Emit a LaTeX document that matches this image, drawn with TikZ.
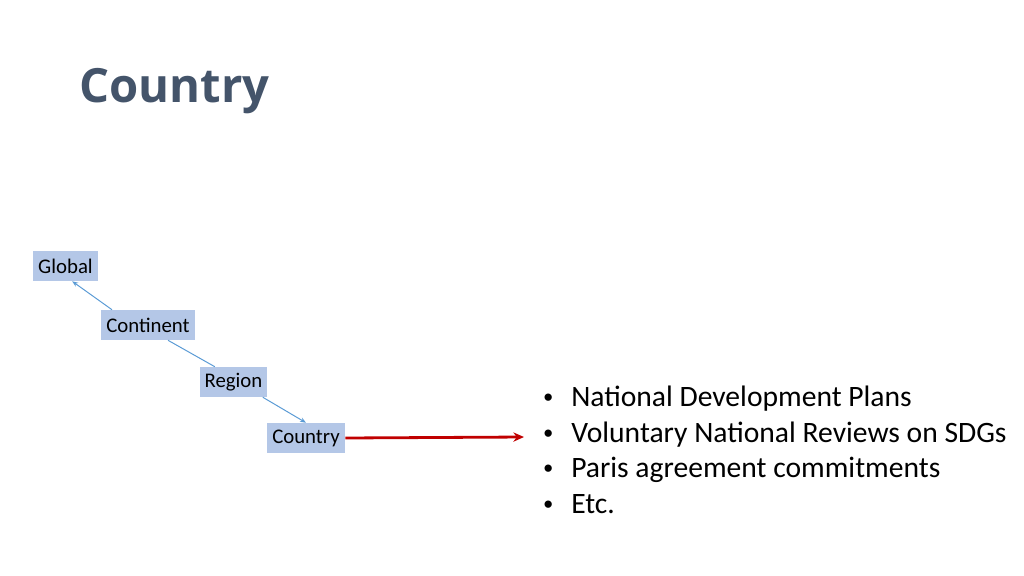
\documentclass[tikz,border=0pt]{standalone}
\usepackage{fontspec}
\setmainfont{Carlito}
\newfontfamily\titlefont{Open Sans}
\newfontfamily\bulletfont{Liberation Sans}
\usetikzlibrary{arrows.meta}
\definecolor{titlecol}{HTML}{44546A}
\definecolor{boxfill}{HTML}{B4C7E7}
\definecolor{linkcol}{HTML}{5B9BD5}
\definecolor{redcol}{HTML}{C00000}
\newcommand{\bulletmark}{\makebox[21.75pt][l]{\hspace{1pt}{\bulletfont\fontsize{20}{20}\selectfont •}}}
\tikzset{
  levelbox/.style={fill=boxfill, inner sep=0pt, minimum height=22.5pt, font=\fontsize{15.6}{18}\selectfont},
  link/.style={draw=linkcol, line width=0.75pt, -{Stealth[length=4.5pt,width=3.5pt]}},
  bigarrow/.style={draw=redcol, line width=2.1pt, -{Stealth[length=8pt,width=7pt]}},
  bulletline/.style={anchor=base west, inner sep=0pt, font=\fontsize{22.2}{26.6}\selectfont},
}
\begin{document}
\begin{tikzpicture}[x=0.75pt,y=-0.75pt]
\useasboundingbox (0,0) rectangle (1024,575);
\node[anchor=base west, inner sep=0pt, text=titlecol, font=\titlefont\bfseries\fontsize{35.4}{40}\selectfont] (title) at (79,102) {Country};
\node[levelbox, minimum width=48.75pt] (global) at (65.5,266) {Global};
\node[levelbox, minimum width=70.5pt] (continent) at (148,325) {Continent};
\node[levelbox, minimum width=50.25pt] (region) at (233.5,382) {Region};
\node[levelbox, minimum width=58.5pt] (country) at (306,438) {Country};
\draw[link] ([xshift=-27pt]continent.north) -- ([xshift=5pt]global.south);
\draw[draw=linkcol, line width=0.75pt] ([xshift=15pt]continent.south) -- ([xshift=-14pt]region.north);
\draw[link] ([xshift=22pt]region.south) -- (country.north);
\coordinate (arrowend) at (524,437);
\draw[bigarrow] (country.east) -- (arrowend);
\node[bulletline] (b1) at (542,406) {\bulletmark National Development Plans};
\node[bulletline] (b2) at (542,442) {\bulletmark Voluntary National Reviews on SDGs};
\node[bulletline] (b3) at (542,477) {\bulletmark Paris agreement commitments};
\node[bulletline] (b4) at (542,513) {\bulletmark Etc.};
\end{tikzpicture}
\end{document}
